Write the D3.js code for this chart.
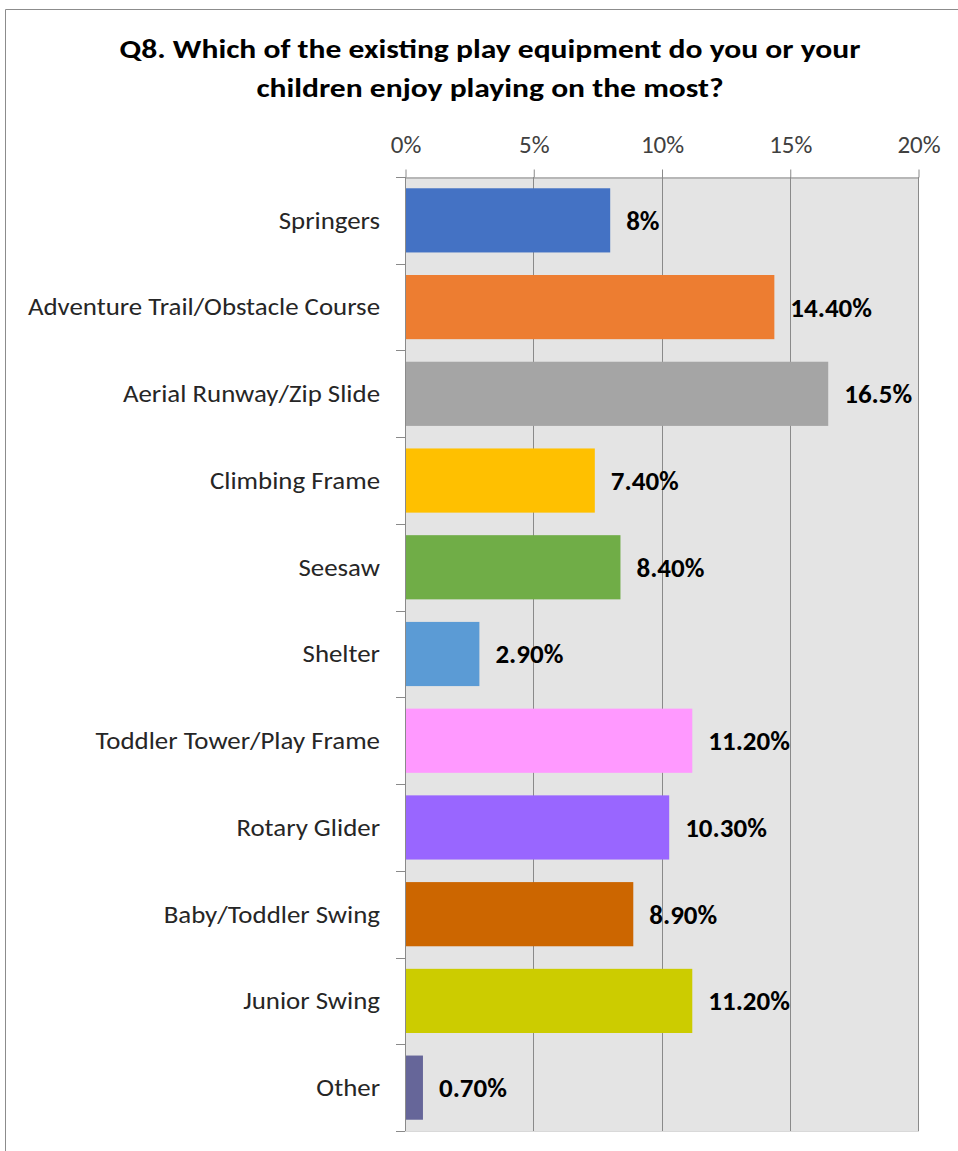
<!DOCTYPE html>
<html>
<head>
<meta charset="utf-8">
<script src="https://cdn.jsdelivr.net/npm/d3@7"></script>
<style>
  body { margin: 0; background: #fff; }
  svg text { font-family: Carlito, "Open Sans", sans-serif; }
</style>
</head>
<body>
<div id="chart"></div>
<script>
const categories = [
  "Springers",
  "Adventure Trail/Obstacle Course",
  "Aerial Runway/Zip Slide",
  "Climbing Frame",
  "Seesaw",
  "Shelter",
  "Toddler Tower/Play Frame",
  "Rotary Glider",
  "Baby/Toddler Swing",
  "Junior Swing",
  "Other",
];
const values = [8, 14.4, 16.5, 7.4, 8.4, 2.9, 11.2, 10.3, 8.9, 11.2, 0.7];
const valueLabels = ["8%", "14.40%", "16.5%", "7.40%", "8.40%", "2.90%", "11.20%", "10.30%", "8.90%", "11.20%", "0.70%"];
const barColors = ["#4472C4", "#ED7D31", "#A5A5A5", "#FFC000", "#70AD47", "#5B9BD5", "#FF99FF", "#9966FF", "#CC6600", "#CCCC00", "#666699"];
const xTicks = [0, 5, 10, 15, 20];
const titleLines = [
  "Q8. Which of the existing play equipment do you or your",
  "children enjoy playing on the most?",
];

const width = 958, height = 1151;
const plot = { left: 405, right: 918, top: 177, bottom: 1131 };

const svg = d3.select("#chart").append("svg")
  .attr("width", width)
  .attr("height", height);

// chart border
svg.append("path")
  .attr("d", `M5.5,${height} V9.5 H${width}`)
  .attr("fill", "none")
  .attr("stroke", "#8c8c8c")
  .attr("stroke-width", 1);

const x = d3.scaleLinear().domain([0, 20]).range([plot.left, plot.right]);
const y = d3.scaleBand().domain(categories).range([plot.top, plot.bottom]).paddingInner(0.26).paddingOuter(0.13);

// plot background
svg.append("rect")
  .attr("x", plot.left)
  .attr("y", plot.top)
  .attr("width", plot.right - plot.left)
  .attr("height", plot.bottom - plot.top)
  .attr("fill", "#e4e4e4");

// gridlines
svg.append("g")
  .selectAll("line")
  .data(xTicks)
  .join("line")
  .attr("x1", (d) => Math.round(x(d)) + 0.5)
  .attr("x2", (d) => Math.round(x(d)) + 0.5)
  .attr("y1", plot.top)
  .attr("y2", plot.bottom)
  .attr("stroke", "#8a8a8a");

// top axis
const xAxis = svg.append("g")
  .attr("transform", `translate(0.5,${plot.top + 0.5})`)
  .call(d3.axisTop(x).tickValues(xTicks).tickFormat((d) => d + "%").tickSize(8).tickPadding(17).tickSizeOuter(0));
xAxis.select(".domain").attr("stroke", "#8a8a8a");
xAxis.selectAll(".tick line").attr("stroke", "#8a8a8a");
xAxis.selectAll(".tick text")
  .attr("font-size", 25)
  .attr("fill", "#404040")
  .style("font-family", 'Carlito, "Open Sans", sans-serif');

// left axis
const yEdges = categories.map((c, i) => plot.top + i * (plot.bottom - plot.top) / categories.length).concat([plot.bottom]);
const yAxisG = svg.append("g");
yAxisG.append("line")
  .attr("x1", plot.left + 0.5).attr("x2", plot.left + 0.5)
  .attr("y1", plot.top).attr("y2", plot.bottom + 0.5)
  .attr("stroke", "#8a8a8a");
yAxisG.selectAll(".ytick")
  .data(yEdges)
  .join("line")
  .attr("class", "ytick")
  .attr("x1", plot.left - 9).attr("x2", plot.left)
  .attr("y1", (d) => Math.round(d) + 0.5).attr("y2", (d) => Math.round(d) + 0.5)
  .attr("stroke", "#8a8a8a");
yAxisG.append("line")
  .attr("x1", plot.left).attr("x2", plot.right + 1)
  .attr("y1", plot.bottom + 0.5).attr("y2", plot.bottom + 0.5)
  .attr("stroke", "#d9d9d9");

// category labels (slightly wide, like the original render)
svg.append("g")
  .selectAll("text")
  .data(categories)
  .join("text")
  .attr("transform", (d) => `translate(${plot.left - 25},${y(d) + y.bandwidth() / 2}) scale(1.12,1)`)
  .attr("dy", "0.35em")
  .attr("text-anchor", "end")
  .attr("font-size", 24)
  .attr("fill", "#262626")
  .text((d) => d);

// bars
svg.append("g")
  .selectAll("rect")
  .data(categories)
  .join("rect")
  .attr("x", x(0) + 1)
  .attr("y", (d) => y(d))
  .attr("width", (d, i) => x(values[i]) - x(0) - 1)
  .attr("height", y.bandwidth())
  .attr("fill", (d, i) => barColors[i]);

// value labels
svg.append("g")
  .selectAll("text")
  .data(categories)
  .join("text")
  .attr("x", (d, i) => x(values[i]) + 16)
  .attr("y", (d) => y(d) + y.bandwidth() / 2)
  .attr("dy", "0.35em")
  .attr("font-size", 27)
  .attr("font-weight", "bold")
  .attr("fill", "#000")
  .text((d, i) => valueLabels[i]);

// title
svg.append("g")
  .selectAll("text")
  .data(titleLines)
  .join("text")
  .attr("transform", (d, i) => `translate(490,${58 + i * 39}) scale(1.17,1)`)
  .attr("text-anchor", "middle")
  .attr("font-size", 27)
  .attr("font-weight", "bold")
  .attr("fill", "#000")
  .text((d) => d);
</script>
</body>
</html>
